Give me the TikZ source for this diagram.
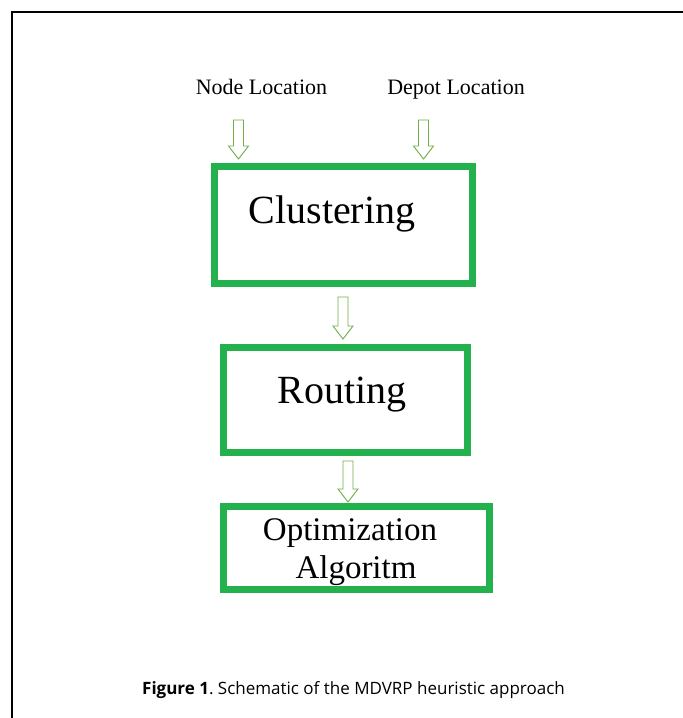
\documentclass[tikz,border=0pt]{standalone}
\usepackage{fontspec}
\setmainfont{Liberation Serif}
\newfontfamily\capfont{Open Sans}
\definecolor{boxgreen}{RGB}{34,177,76}
\definecolor{arrgreen}{RGB}{112,173,71}
% hollow block arrow: x, top of shaft, tip
\newcommand{\hollowarr}[3]{%
  \draw[arrgreen,line width=0.9pt,fill=white]
    (#1-5,#2) -- (#1+5,#2) -- (#1+5,#3-13) -- (#1+10,#3-13) -- (#1,#3)
    -- (#1-10,#3-13) -- (#1-5,#3-13) -- cycle;}
\begin{document}
\begin{tikzpicture}[x=1pt,y=-1pt,
    box/.style={draw=boxgreen,line width=7pt,rectangle,inner sep=0pt},
    steptext/.style={font=\fontsize{40}{44}\selectfont,inner sep=0pt,anchor=base},
    intext/.style={font=\fontsize{22}{26}\selectfont,inner sep=0pt,anchor=base}]
  \useasboundingbox (0,0) rectangle (683,718);
  % frame
  \draw[line width=1.5pt] (12,718) -- (12,12) -- (683,12);
  % inputs
  \node[intext] (nodeloc) at (261.5,94) {Node Location};
  \node[intext] (depotloc) at (456,94) {Depot Location};
  % boxes
  \node[box,minimum width=258pt,minimum height=117pt] (clus) at (343.5,225) {};
  \node[box,minimum width=244pt,minimum height=105pt] (rout) at (345.5,400) {};
  \node[box,minimum width=266pt,minimum height=83pt] (optim) at (356.5,548) {};
  \node[steptext] (clustxt) at (332,223) {Clustering};
  \node[steptext] (routtxt) at (342,403) {Routing};
  \node[steptext,font=\fontsize{33}{38}\selectfont,align=center] (optimtxt) at (350,578)
    {Optimization\\\hspace*{12pt}Algoritm};
  % arrows
  \hollowarr{238.5}{120}{159}
  \hollowarr{423.5}{120}{159}
  \hollowarr{343}{297}{339}
  \hollowarr{348}{461}{502}
  % caption
  \node[font=\capfont\fontsize{17}{20}\selectfont,inner sep=0pt,anchor=base] (caption) at (353.5,694)
    {\frenchspacing\textbf{Figure 1}. Schematic of the MDVRP heuristic approach};
\end{tikzpicture}
\end{document}
